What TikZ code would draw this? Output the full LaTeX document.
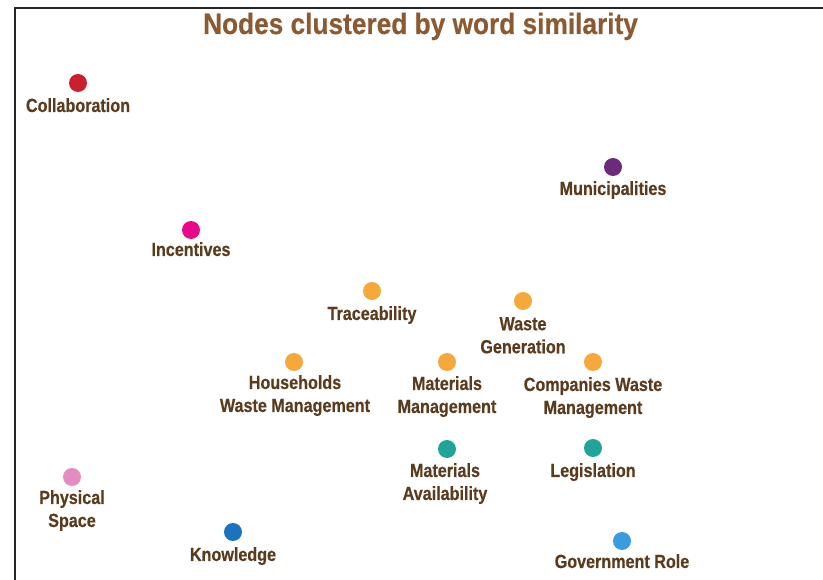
\documentclass[tikz,border=0pt]{standalone}
\usepackage{fontspec}
\newfontfamily\lblfont[FakeStretch=0.85,FakeBold=0.4]{Liberation Sans}
\newfontfamily\ttlfont[FakeStretch=0.89,FakeBold=0.4]{Liberation Sans}
\definecolor{txtbrown}{HTML}{5B3B1E}
\definecolor{ttlbrown}{HTML}{8C5A32}
\definecolor{cRed}{HTML}{C8202F}
\definecolor{cPurple}{HTML}{6B2A7A}
\definecolor{cMagenta}{HTML}{E6098A}
\definecolor{cOrange}{HTML}{F5A83C}
\definecolor{cTeal}{HTML}{1FA39A}
\definecolor{cPink}{HTML}{E38CC0}
\definecolor{cBlue}{HTML}{1B72BF}
\definecolor{cSky}{HTML}{3B9BE0}
\begin{document}
\begin{tikzpicture}[x=1pt,y=-1pt,
  dot/.style={circle,fill=#1,draw=none,minimum size=18pt,inner sep=0pt},
  lbl/.style={anchor=north,inner sep=0pt,align=center,text=txtbrown,
    font=\lblfont\bfseries\fontsize{19}{23}\selectfont},
  ttl/.style={anchor=base,inner sep=0pt,text=ttlbrown,
    font=\ttlfont\bfseries\fontsize{29.5}{34}\selectfont}]
\useasboundingbox (0,0) rectangle (823,580);
\fill[white] (0,0) rectangle (823,580);
% frame (top and left edges)
\draw[line width=2.2pt,black!85] (15,580) -- (15,8) -- (823,8);
% title
\node[ttl] (title) at (420.5,34) {Nodes clustered by word similarity};
% nodes
\node[dot=cRed] (collab) at (78,83) {};
\node[lbl] (collabL) at (78,98) {Collaboration};
\node[dot=cPurple] (munic) at (613,167) {};
\node[lbl] (municL) at (613,181) {Municipalities};
\node[dot=cMagenta] (incent) at (191,230) {};
\node[lbl] (incentL) at (191,242) {Incentives};
\node[dot=cOrange] (trace) at (372,291) {};
\node[lbl] (traceL) at (372,306) {Traceability};
\node[dot=cOrange] (wgen) at (523,301) {};
\node[lbl] (wgenL) at (523,317) {Waste\\Generation};
\node[dot=cOrange] (hwm) at (294,362) {};
\node[lbl] (hwmL) at (295,375) {Households\\Waste Management};
\node[dot=cOrange] (mman) at (447,362) {};
\node[lbl] (mmanL) at (447,376) {Materials\\Management};
\node[dot=cOrange] (cwm) at (593,362) {};
\node[lbl] (cwmL) at (593,377) {Companies Waste\\Management};
\node[dot=cTeal] (mavail) at (447,449) {};
\node[lbl] (mavailL) at (445,463) {Materials\\Availability};
\node[dot=cTeal] (legis) at (593,448) {};
\node[lbl] (legisL) at (593,463) {Legislation};
\node[dot=cPink] (phys) at (72,477) {};
\node[lbl] (physL) at (72,490) {Physical\\Space};
\node[dot=cBlue] (know) at (233,532) {};
\node[lbl] (knowL) at (233,547) {Knowledge};
\node[dot=cSky] (gov) at (622,541) {};
\node[lbl] (govL) at (622,554) {Government Role};
\end{tikzpicture}
\end{document}
